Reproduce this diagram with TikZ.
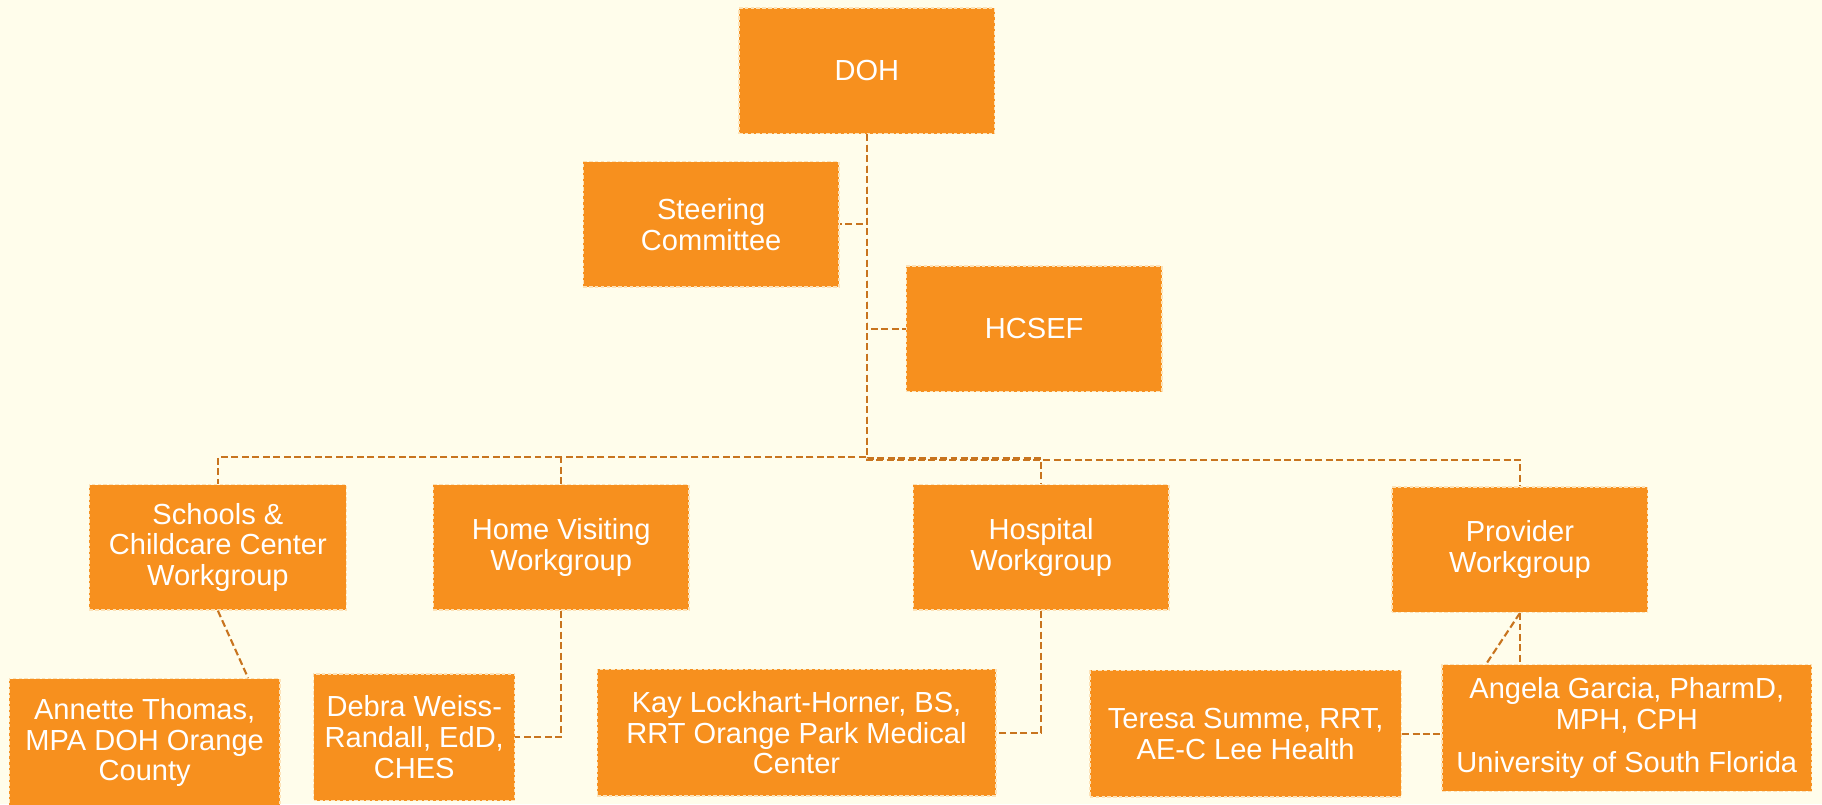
\documentclass[tikz,border=0pt]{standalone}
\usepackage{fontspec}
\setmainfont{Liberation Sans}
\usetikzlibrary{calc}
\definecolor{bgc}{HTML}{FFFDEB}
\definecolor{boxorange}{HTML}{F7901E}
\definecolor{boxedge}{HTML}{FCE2B8}
\definecolor{linkc}{HTML}{C8741E}
\tikzset{
  box/.style={fill=boxorange, draw=boxedge, dash pattern=on 3pt off 2pt, line width=1.2pt,
    text=white, font=\fontsize{25}{26.5}\selectfont, align=center, inner sep=0pt, anchor=center},
  link/.style={draw=linkc, line width=1.8pt, dash pattern=on 6pt off 3pt}
}
\begin{document}
\begin{tikzpicture}[x=1pt,y=-1pt]
\fill[bgc] (0,0) rectangle (1568,692);
\useasboundingbox (0,0) rectangle (1568,692);

\node[box, minimum width=220pt, minimum height=108pt] (doh) at (746,61) {DOH};
\node[box, minimum width=220pt, minimum height=108pt] (steer) at (612,193) {Steering\\Committee};
\node[box, minimum width=220pt, minimum height=108pt] (hcsef) at (890,283) {HCSEF};

\node[box, minimum width=221pt, minimum height=108pt] (schools) at (187.5,471) {Schools \&\\Childcare Center\\Workgroup};
\node[box, minimum width=220pt, minimum height=108pt] (home) at (483,471) {Home Visiting\\Workgroup};
\node[box, minimum width=220pt, minimum height=108pt] (hosp) at (896,471) {Hospital\\Workgroup};
\node[box, minimum width=220pt, minimum height=108pt] (prov) at (1308,473) {Provider\\Workgroup};

\node[box, minimum width=233pt, minimum height=110pt] (annette) at (124.5,639) {Annette Thomas,\\MPA DOH Orange\\County};
\node[box, minimum width=173pt, minimum height=109pt] (debra) at (356.5,634.5) {Debra Weiss-\\Randall, EdD,\\CHES};
\node[box, minimum width=343pt, minimum height=109pt] (kay) at (685.5,630.5) {Kay Lockhart-Horner, BS,\\RRT Orange Park Medical\\Center};
\node[box, minimum width=268pt, minimum height=109pt] (teresa) at (1072,631.5) {Teresa Summe, RRT,\\AE-C Lee Health};
\node[box, minimum width=318pt, minimum height=109pt] (angela) at (1400,626.5) {Angela Garcia, PharmD,\\MPH, CPH\\[10pt]University of South Florida};

\draw[link] (doh.south) -- (steer.east -| doh.south) -- (steer.east);
\draw[link] (doh.south) -- (hcsef.west -| doh.south) -- (hcsef.west);
\draw[link] (doh.south) -- ++(0,278) -| (schools.north);
\draw[link] (doh.south) -- ++(0,278) -| (home.north);
\draw[link] (doh.south) -- ++(0,279) -| (hosp.north);
\draw[link] (doh.south) -- ++(0,280) -| (prov.north);

\draw[link] (schools.south) -- ($(annette.north)+(89,0)$);
\draw[link] (home.south) |- (debra.east);
\draw[link] (hosp.south) |- (kay.east);
\draw[link] (prov.south) -- (prov.south |- angela.north);
\draw[link] (prov.south) -- ($(angela.north)+(-121,0)$);
\draw[link] (teresa.east) -- (angela.west |- teresa.east);
\end{tikzpicture}
\end{document}
